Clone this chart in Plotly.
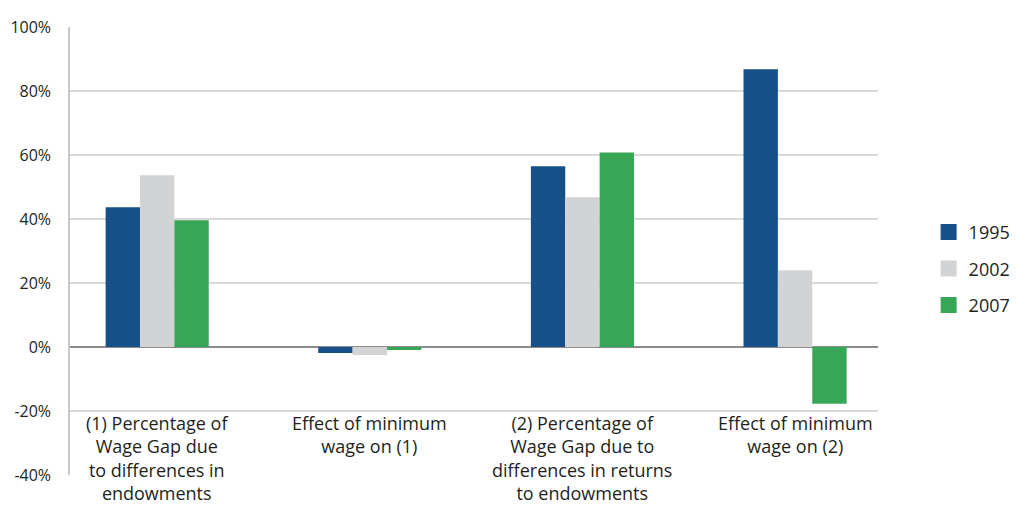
import plotly.graph_objects as go

categories = [
    "(1) Percentage of<br>Wage Gap due<br>to differences in<br>endowments",
    "Effect of minimum<br>wage on (1)",
    "(2) Percentage of<br>Wage Gap due to<br>differences in returns<br>to endowments",
    "Effect of minimum<br>wage on (2)",
]
series_names = ["1995", "2002", "2007"]
values_1995 = [43.7, -1.9, 56.5, 86.8]
values_2002 = [53.7, -2.5, 46.8, 24.0]
values_2007 = [39.6, -0.9, 60.8, -17.7]
colors = ["#175088", "#D1D3D4", "#38A657"]
y_ticks = [-40, -20, 0, 20, 40, 60, 80, 100]
y_tick_labels = ["-40%", "-20%", "0%", "20%", "40%", "60%", "80%", "100%"]

FONT = "Open Sans"
TXT = "#231F20"

fig = go.Figure()
for name, vals, col in zip(series_names, [values_1995, values_2002, values_2007], colors):
    fig.add_trace(go.Bar(
        x=list(range(len(categories))), y=vals, name=name,
        marker=dict(color=col, line=dict(width=0)),
        showlegend=False,
    ))
# legend entries with larger square swatches
for name, col in zip(series_names, colors):
    fig.add_trace(go.Scatter(
        x=[None], y=[None], mode="markers", name=name,
        marker=dict(symbol="square", size=16, color=col, line=dict(width=0)),
        legendgroup=name, showlegend=True,
    ))

for i, cat in enumerate(categories):
    fig.add_annotation(
        x=i, y=-20, xref="x", yref="y", text=cat, showarrow=False,
        yanchor="top", xanchor="center", align="center", yshift=2,
        font=dict(family=FONT, size=18, color=TXT),
    )

fig.update_layout(
    width=1016, height=508,
    margin=dict(l=70, r=138, t=27, b=33, autoexpand=False),
    paper_bgcolor="white", plot_bgcolor="white",
    barmode="group", bargap=0.515, bargroupgap=0,
    font=dict(family=FONT, size=16, color=TXT),
    legend=dict(
        xref="container", x=0.914, y=0.46, xanchor="left", yanchor="middle",
        font=dict(family=FONT, size=18, color=TXT),
        tracegroupgap=10, bgcolor="rgba(0,0,0,0)", itemsizing="trace",
        borderwidth=0,
    ),
    showlegend=True,
)
fig.update_xaxes(
    range=[-0.41, 3.39], showticklabels=False, showgrid=False,
    zeroline=False, showline=False, fixedrange=True,
)
fig.update_yaxes(
    range=[-40, 100], tickvals=y_ticks, ticktext=y_tick_labels,
    showgrid=True, gridcolor="#D9D9D9", gridwidth=1.5,
    zeroline=True, zerolinecolor="#8C8C8C", zerolinewidth=2,
    showline=True, linecolor="#C8C8C8", linewidth=1.5,
    ticks="", ticklabelstandoff=14, fixedrange=True,
    tickfont=dict(family=FONT, size=16, color=TXT),
)

fig.write_html(
    "out.html",
    config={"displayModeBar": False},
    post_script="document.body.style.margin='0';document.body.style.padding='0';",
)
